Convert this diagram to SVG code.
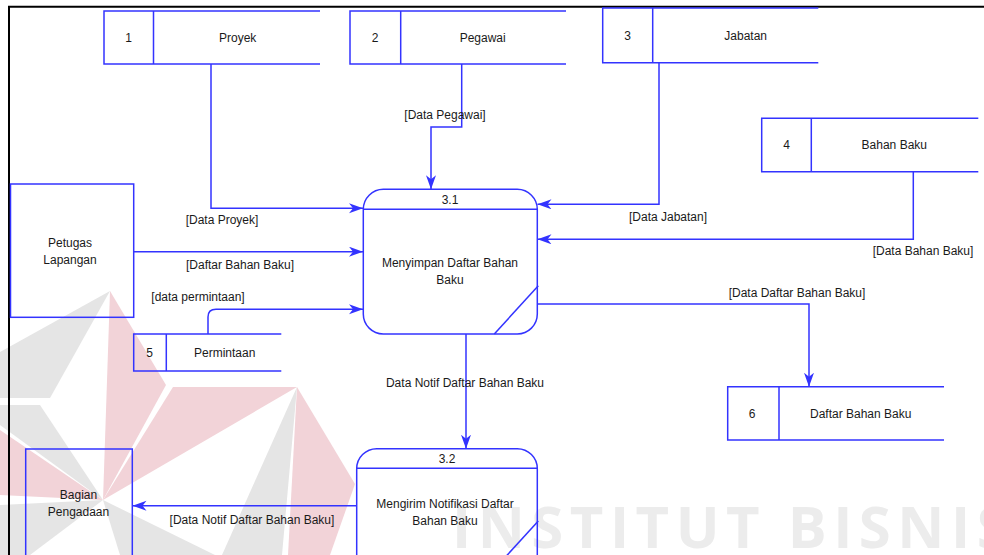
<svg xmlns="http://www.w3.org/2000/svg" width="984" height="555" viewBox="0 0 984 555">
<style>
  .t{font-family:"Liberation Sans",Arial,sans-serif;font-size:12px;fill:#1a1a1a;text-anchor:middle;dominant-baseline:central}
  .s{fill:none;stroke:#3333ff;stroke-width:1.5}
  .c{fill:none;stroke:#3333ff;stroke-width:1.5}
  .wr{fill:#f2d3d8}
  .wg{fill:#e5e5e5}
  .wt{font-family:"Open Sans","DejaVu Sans",sans-serif;font-weight:bold;font-size:58px;fill:#ececec;letter-spacing:6.5px}
</style>
<defs>
  <marker id="ah" markerUnits="userSpaceOnUse" markerWidth="16" markerHeight="12" refX="14" refY="5" orient="auto">
    <path d="M0,0 L14,5 L0,10 L4,5 Z" fill="#3333ff"/>
  </marker>
</defs>
<rect width="984" height="555" fill="#ffffff"/>
<g id="watermark">
  <polygon class="wr" points="110,291 166,385 103,500"/>
  <polygon class="wr" points="173,387 297,387 103,500"/>
  <polygon class="wr" points="297,387 355,484 330,555 288,555"/>
  <polygon class="wr" points="103,500 0,430 0,495"/>
  <polygon class="wg" points="110,291 0,352 0,398 50,398"/>
  <polygon class="wg" points="40,405 0,405 0,425 103,500"/>
  <polygon class="wg" points="103,500 0,505 0,555 30,555"/>
  <polygon class="wg" points="103,500 120,555 215,555"/>
  <polygon class="wg" points="297,387 222,555 282,555"/>
  <text class="wt" x="452" y="548">INSTITUT BISNIS</text>
</g>
<g id="frame">
  <line x1="8" y1="6.7" x2="984" y2="6.7" stroke="#000" stroke-width="2"/>
  <line x1="9" y1="6" x2="9" y2="555" stroke="#000" stroke-width="2"/>
</g>
<g id="connectors">
  <polyline class="c" points="211,64 211,208.3 363,208.3" marker-end="url(#ah)"/>
  <polyline class="c" points="461.7,64 461.7,127 431,127 431,189.3" marker-end="url(#ah)"/>
  <polyline class="c" points="659,62.7 659,204.3 537.5,204.3" marker-end="url(#ah)"/>
  <polyline class="c" points="913.3,171.7 913.3,239.3 537.5,239.3" marker-end="url(#ah)"/>
  <line class="c" x1="133.7" y1="251.7" x2="363" y2="251.7" marker-end="url(#ah)"/>
  <path class="c" d="M208,334 L208,317 Q208,309.3 216,309.3 L363,309.3" marker-end="url(#ah)"/>
  <polyline class="c" points="537.5,304 809,304 809,386.7" marker-end="url(#ah)"/>
  <line class="c" x1="466" y1="334" x2="466" y2="448.7" marker-end="url(#ah)"/>
  <line class="c" x1="356.7" y1="505.7" x2="132.5" y2="505.7" marker-end="url(#ah)"/>
  <text class="t" x="445" y="115.3">[Data Pegawai]</text>
  <text class="t" x="222" y="220">[Data Proyek]</text>
  <text class="t" x="668" y="216.7">[Data Jabatan]</text>
  <text class="t" x="923" y="250.7">[Data Bahan Baku]</text>
  <text class="t" x="240" y="265">[Daftar Bahan Baku]</text>
  <text class="t" x="198" y="297.3">[data permintaan]</text>
  <text class="t" x="797" y="293.3">[Data Daftar Bahan Baku]</text>
  <text class="t" x="465" y="382.7">Data Notif Daftar Bahan Baku</text>
  <text class="t" x="252" y="520">[Data Notif Daftar Bahan Baku]</text>
</g>
<g id="store1">
  <path class="s" d="M320,11 H104 V64 H320 M153.5,11 V64"/>
  <text class="t" x="128.5" y="38">1</text>
  <text class="t" x="237.7" y="38">Proyek</text>
</g>
<g id="store2">
  <path class="s" d="M566,11 H350 V64 H566 M400.7,11 V64"/>
  <text class="t" x="375" y="38">2</text>
  <text class="t" x="482.7" y="38">Pegawai</text>
</g>
<g id="store3">
  <path class="s" d="M818.3,8 H602.7 V62.7 H818.3 M652.7,8 V62.7"/>
  <text class="t" x="627.5" y="35.5">3</text>
  <text class="t" x="745.7" y="35.5">Jabatan</text>
</g>
<g id="store4">
  <path class="s" d="M978.3,118.3 H761.7 V171.7 H978.3 M811.3,118.3 V171.7"/>
  <text class="t" x="786.5" y="145">4</text>
  <text class="t" x="894.3" y="145">Bahan Baku</text>
</g>
<g id="store5">
  <path class="s" d="M281.3,334 H133.7 V371 H281.3 M166.3,334 V371"/>
  <text class="t" x="149.5" y="352.5">5</text>
  <text class="t" x="224.7" y="352.5">Permintaan</text>
</g>
<g id="store6">
  <path class="s" d="M944,386.7 H727.7 V440 H944 M779,386.7 V440"/>
  <text class="t" x="752" y="414">6</text>
  <text class="t" x="860.7" y="414">Daftar Bahan Baku</text>
</g>
<g id="petugas">
  <rect class="s" x="10.5" y="184" width="123.2" height="133.3"/>
  <text class="t" x="70" y="243">Petugas</text>
  <text class="t" x="70" y="260">Lapangan</text>
</g>
<g id="bagian">
  <rect class="s" x="25.7" y="449" width="106.6" height="130"/>
  <text class="t" x="78.5" y="495">Bagian</text>
  <text class="t" x="78.5" y="512">Pengadaan</text>
</g>
<g id="p31">
  <rect class="s" x="363.3" y="189.3" width="174" height="144.7" rx="20" ry="20"/>
  <line class="s" x1="363.3" y1="209.3" x2="537.3" y2="209.3"/>
  <line class="s" x1="538.3" y1="285.7" x2="494.3" y2="334"/>
  <text class="t" x="450" y="199.5">3.1</text>
  <text class="t" x="450" y="263">Menyimpan Daftar Bahan</text>
  <text class="t" x="450" y="280">Baku</text>
</g>
<g id="p32">
  <rect class="s" x="356.7" y="448.7" width="180.6" height="130" rx="20" ry="20"/>
  <line class="s" x1="356.7" y1="468.3" x2="537.3" y2="468.3"/>
  <line class="s" x1="538.3" y1="521" x2="500" y2="563"/>
  <text class="t" x="447" y="458.5">3.2</text>
  <text class="t" x="445" y="504">Mengirim Notifikasi Daftar</text>
  <text class="t" x="445" y="521">Bahan Baku</text>
</g>
</svg>
